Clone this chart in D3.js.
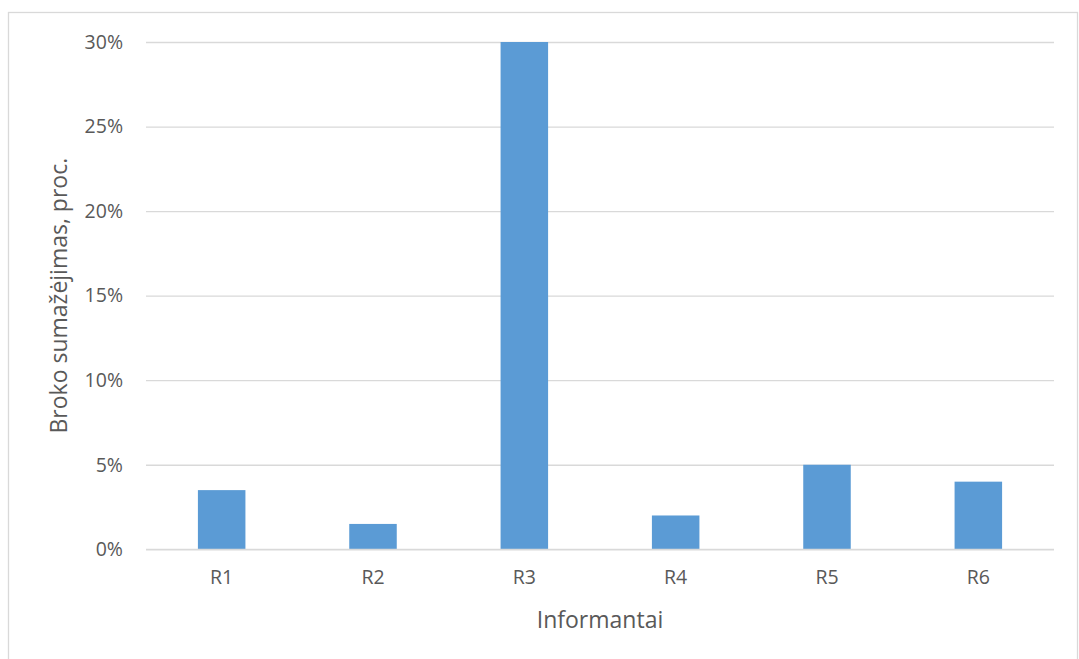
<!DOCTYPE html>
<html><head><meta charset="utf-8">
<script src="https://cdn.jsdelivr.net/npm/d3@7"></script>
<style>html,body{margin:0;padding:0;background:#fff;}svg{display:block;font-family:"Open Sans",sans-serif;}</style>
</head><body>
<svg id="c" width="1079" height="659"></svg>
<script>
const categories = ["R1","R2","R3","R4","R5","R6"];
const values = [0.035, 0.015, 0.30, 0.02, 0.05, 0.04];
const yTicks = [0, 0.05, 0.10, 0.15, 0.20, 0.25, 0.30];
const xTitle = "Informantai";
const yTitle = "Broko sumažėjimas, proc.";

const svg = d3.select("#c");
const m = {left:146, right:1054, top:42, bottom:549.3};

svg.append("rect").attr("x",8.5).attr("y",12.5).attr("width",1069).attr("height",700)
  .attr("fill","#fff").attr("stroke","#d9d9d9").attr("stroke-width",1.3);

const x = d3.scaleBand().domain(categories).range([m.left,m.right]).paddingInner(0.686).paddingOuter(0.343);
const y = d3.scaleLinear().domain([0,0.30]).range([m.bottom,m.top]);

const yAxis = d3.axisLeft(y).tickValues(yTicks).tickFormat(d3.format(".0%")).tickSize(-(m.right-m.left)).tickPadding(23);
const gy = svg.append("g").attr("transform",`translate(${m.left},0)`).call(yAxis);
gy.select(".domain").remove();
gy.selectAll(".tick line").attr("stroke","#d9d9d9").attr("stroke-width",1.3);
gy.selectAll(".tick text").attr("fill","#595959").style("font-size","19.5px").style("font-family","Open Sans");

svg.append("g").selectAll("rect").data(values).join("rect")
  .attr("x",(d,i)=>x(categories[i])).attr("width",x.bandwidth())
  .attr("y",d=>y(d)).attr("height",d=>y(0)-y(d)).attr("fill","#5b9bd5");

svg.append("line").attr("x1",m.left).attr("x2",m.right).attr("y1",y(0)).attr("y2",y(0)).attr("stroke","#d9d9d9").attr("stroke-width",1.3);

const xAxis = d3.axisBottom(x).tickSize(0).tickPadding(21);
const gx = svg.append("g").attr("transform",`translate(0,${y(0)})`).call(xAxis);
gx.select(".domain").remove();
gx.selectAll(".tick text").attr("fill","#595959").style("font-size","19.5px").style("font-family","Open Sans");

svg.append("text").attr("x",(m.left+m.right)/2).attr("y",628).attr("text-anchor","middle")
  .attr("fill","#595959").style("font-size","23px").text(xTitle);
svg.append("text").attr("transform",`translate(67,${(m.top+m.bottom)/2}) rotate(-90)`).attr("text-anchor","middle")
  .attr("fill","#595959").style("font-size","23px").text(yTitle);
</script>
</body></html>
